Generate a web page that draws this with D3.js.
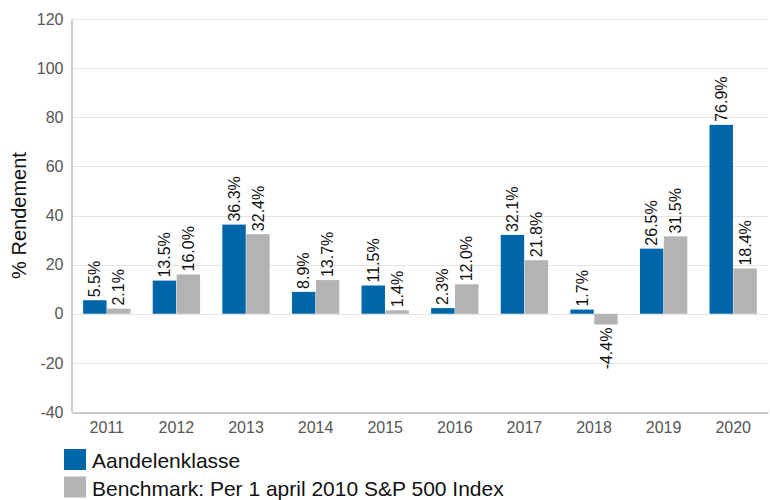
<!DOCTYPE html>
<html>
<head>
<meta charset="utf-8">
<script src="https://cdn.jsdelivr.net/npm/d3@7"></script>
<style>
  body { margin: 0; background: #fff; }
  text { font-family: "Liberation Sans", Arial, sans-serif; }
</style>
</head>
<body>
<svg id="chart" width="770" height="500"></svg>
<script>
//////////////////// DATA ////////////////////
const years = ["2011", "2012", "2013", "2014", "2015", "2016", "2017", "2018", "2019", "2020"];
const fundReturns = [5.5, 13.5, 36.3, 8.9, 11.5, 2.3, 32.1, 1.7, 26.5, 76.9];
const benchReturns = [2.1, 16.0, 32.4, 13.7, 1.4, 12.0, 21.8, -4.4, 31.5, 18.4];
const seriesNames = ["Aandelenklasse", "Benchmark: Per 1 april 2010 S&P 500 Index"];
const yTicks = [-40, -20, 0, 20, 40, 60, 80, 100, 120];

const colors = ["#0066aa", "#b3b3b3"];

//////////////////// SIZES ////////////////////
const plot = { left: 72, right: 768, top: 19, bottom: 412 };

const svg = d3.select("#chart");

//////////////////// SCALES ////////////////////
const xScale = d3.scaleBand()
    .domain(years)
    .range([plot.left, plot.right])
    .paddingInner(0.32)
    .paddingOuter(0.16);

const xSub = d3.scaleBand()
    .domain([0, 1])
    .range([0, xScale.bandwidth()])
    .paddingInner(0.02);

const yScale = d3.scaleLinear()
    .domain([-40, 120])
    .range([plot.bottom, plot.top]);

//////////////////// GRID ////////////////////
svg.append("g")
    .selectAll("line")
    .data(yTicks.filter(d => d !== -40))
    .join("line")
    .attr("x1", plot.left)
    .attr("x2", plot.right)
    .attr("y1", d => Math.round(yScale(d)) + 0.5)
    .attr("y2", d => Math.round(yScale(d)) + 0.5)
    .attr("stroke", "#e3e3e3")
    .attr("stroke-width", 1);

//////////////////// BARS ////////////////////
const rows = years.map((y, i) => ({ year: y, values: [fundReturns[i], benchReturns[i]] }));

const groups = svg.append("g")
    .selectAll("g")
    .data(rows)
    .join("g")
    .attr("transform", d => `translate(${xScale(d.year)},0)`);

groups.selectAll("rect")
    .data(d => d.values.map((v, k) => ({ v, k })))
    .join("rect")
    .attr("x", d => xSub(d.k))
    .attr("width", xSub.bandwidth())
    .attr("y", d => yScale(Math.max(0, d.v)))
    .attr("height", d => Math.abs(yScale(d.v) - yScale(0)))
    .attr("fill", d => colors[d.k]);

// value labels, rotated
groups.selectAll("text")
    .data(d => d.values.map((v, k) => ({ v, k })))
    .join("text")
    .attr("transform", d => {
        const cx = xSub(d.k) + xSub.bandwidth() / 2;
        const cy = d.v >= 0 ? yScale(d.v) - 3 : yScale(d.v) + 3;
        return `translate(${cx},${cy}) rotate(-90)`;
    })
    .attr("dy", "0.35em")
    .attr("text-anchor", d => d.v >= 0 ? "start" : "end")
    .attr("font-size", 16)
    .attr("fill", "#111")
    .text(d => d.v.toFixed(1) + "%");

//////////////////// AXES ////////////////////
const yAxis = svg.append("g")
    .attr("transform", `translate(${plot.left - 0.5},0)`)
    .call(d3.axisLeft(yScale).tickValues(yTicks).tickFormat(d => String(d)).tickSize(0).tickPadding(8));
yAxis.select(".domain").attr("stroke", "#999");
yAxis.selectAll("text").attr("font-size", 16).attr("fill", "#555")
    .style("font-family", "'Liberation Sans', Arial, sans-serif");

const xAxis = svg.append("g")
    .attr("transform", `translate(0,${plot.bottom + 0.5})`)
    .call(d3.axisBottom(xScale).tickSize(0).tickPadding(9));
xAxis.select(".domain").attr("stroke", "#999");
xAxis.selectAll("text").attr("font-size", 16).attr("fill", "#555")
    .style("font-family", "'Liberation Sans', Arial, sans-serif");

// axis title
svg.append("text")
    .attr("transform", `translate(26,${(plot.top + plot.bottom) / 2}) rotate(-90)`)
    .attr("text-anchor", "middle")
    .attr("font-size", 20)
    .attr("fill", "#111")
    .text("% Rendement");

//////////////////// LEGEND ////////////////////
const legend = svg.append("g")
    .selectAll("g")
    .data(seriesNames)
    .join("g")
    .attr("transform", (d, i) => `translate(64,${449 + i * 27.5})`);

legend.append("rect")
    .attr("width", 22)
    .attr("height", 21)
    .attr("fill", (d, i) => colors[i]);

legend.append("text")
    .attr("x", 28)
    .attr("y", 19)
    .attr("font-size", 21)
    .attr("fill", "#111")
    .text(d => d);
</script>
</body>
</html>
